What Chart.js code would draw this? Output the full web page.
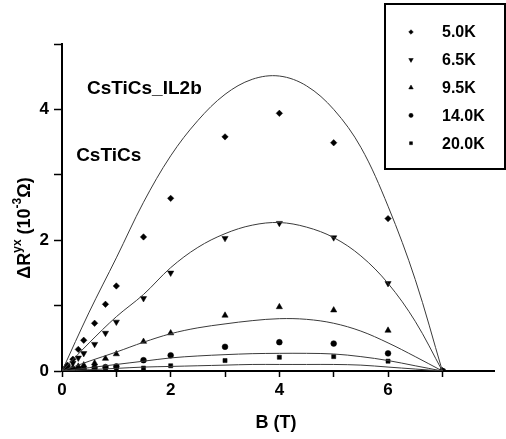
<!DOCTYPE html>
<html>
<head>
<meta charset="utf-8">
<script src="https://cdn.jsdelivr.net/npm/chart.js@4.4.0/dist/chart.umd.min.js"></script>
<style>
  html, body { margin: 0; padding: 0; background: #fff; }
  #hall { display: block; }
</style>
</head>
<body>
<canvas id="hall" width="506" height="439"></canvas>
<script>
// measured field points (T)
const fieldB = [0, 0.05, 0.1, 0.2, 0.3, 0.4, 0.6, 0.8, 1, 1.5, 2, 3, 4, 5, 6, 7];
// ΔR^yx in units of 10^-3 Ω
const hall5K  = [0, 0.04, 0.09, 0.18, 0.33, 0.47, 0.73, 1.02, 1.30, 2.05, 2.64, 3.58, 3.94, 3.49, 2.33, 0];
const hall6K  = [0, 0.02, 0.05, 0.12, 0.20, 0.27, 0.41, 0.58, 0.75, 1.11, 1.50, 2.03, 2.26, 2.04, 1.34, 0];
const hall9K  = [0, 0.01, 0.02, 0.05, 0.07, 0.09, 0.12, 0.19, 0.26, 0.45, 0.58, 0.85, 0.98, 0.93, 0.62, 0];
const hall14K = [0, 0.01, 0.01, 0.02, 0.03, 0.03, 0.05, 0.06, 0.07, 0.165, 0.24, 0.37, 0.44, 0.42, 0.27, 0];
const hall20K = [0, 0, 0, 0.01, 0.01, 0.01, 0.02, 0.02, 0.03, 0.045, 0.08, 0.16, 0.21, 0.22, 0.15, 0];

// fit curves, sampled every 0.5 T
const fitB   = [0, 0.5, 1, 1.5, 2, 2.5, 3, 3.5, 4, 4.5, 5, 5.5, 6, 6.5, 7];
const fit5K  = [0, 0.90, 1.73, 2.58, 3.29, 3.83, 4.23, 4.46, 4.51, 4.36, 4.00, 3.42, 2.52, 1.40, 0];
const fit6K  = [0, 0.43, 0.83, 1.17, 1.58, 1.89, 2.10, 2.23, 2.27, 2.20, 2.04, 1.76, 1.34, 0.76, 0];
const fit9K  = [0, 0.15, 0.29, 0.44, 0.57, 0.66, 0.72, 0.77, 0.80, 0.79, 0.73, 0.61, 0.43, 0.22, 0];
const fit14K = [0, 0.05, 0.10, 0.15, 0.20, 0.23, 0.25, 0.265, 0.27, 0.27, 0.26, 0.22, 0.16, 0.08, 0];
const fit20K = [0, 0.02, 0.04, 0.06, 0.07, 0.08, 0.09, 0.10, 0.10, 0.10, 0.10, 0.09, 0.06, 0.03, 0];

const tempLabels = ['5.0K', '6.5K', '9.5K', '14.0K', '20.0K'];
const xTicks = [0, 1, 2, 3, 4, 5, 6, 7];
const yTicks = [0, 1, 2, 3, 4, 5];

const FONT = "'Liberation Sans', Arial, sans-serif";

// marker per temperature
const MARKERS = [
  { pointStyle: 'rectRot',  rotation: 0,   radius: 3.2 },
  { pointStyle: 'triangle', rotation: 180, radius: 3.6 },
  { pointStyle: 'triangle', rotation: 0,   radius: 3.6 },
  { pointStyle: 'circle',   rotation: 0,   radius: 2.9 },
  { pointStyle: 'rect',     rotation: 0,   radius: 2.9 },
];

const measured = [hall5K, hall6K, hall9K, hall14K, hall20K];
const fitted   = [fit5K, fit6K, fit9K, fit14K, fit20K];

const toXY = (xs, ys) => xs.map((x, i) => ({ x, y: ys[i] }));

const datasets = [];
fitted.forEach((ys, i) => {
  datasets.push({
    label: tempLabels[i] + ' fit',
    data: toXY(fitB, ys),
    showLine: true,
    borderColor: '#3a3a3a',
    borderWidth: 1,
    pointRadius: 0,
    tension: 0.35,
  });
});
measured.forEach((ys, i) => {
  const m = MARKERS[i];
  datasets.push({
    label: tempLabels[i],
    data: toXY(fieldB, ys),
    showLine: false,
    pointStyle: m.pointStyle,
    rotation: m.rotation,
    pointRadius: m.radius,
    backgroundColor: '#000',
    borderColor: '#000',
    borderWidth: 0.5,
  });
});

// framed legend in the top-right corner
const boxLegend = {
  id: 'boxLegend',
  afterDraw(chart) {
    const ctx = chart.ctx;
    ctx.save();
    ctx.strokeStyle = '#000';
    ctx.lineWidth = 2;
    ctx.strokeRect(385, 4, 120, 165);
    ctx.font = 'bold 16px ' + FONT;
    ctx.textAlign = 'left';
    ctx.textBaseline = 'middle';
    tempLabels.forEach((lab, i) => {
      const y = 32 + i * 27.8;
      const m = MARKERS[i];
      ctx.fillStyle = '#000';
      ctx.strokeStyle = '#000';
      ctx.lineWidth = 0.5;
      Chart.helpers.drawPoint(ctx, {
        pointStyle: m.pointStyle, rotation: m.rotation,
        radius: m.radius * 0.72, borderWidth: 0.5,
      }, 411, y);
      ctx.fillText(lab, 442, y + 1);
    });
    ctx.restore();
  }
};

// sample names and axis titles
const captions = {
  id: 'captions',
  afterDraw(chart) {
    const ctx = chart.ctx;
    const xs = chart.scales.x, ys = chart.scales.y;
    ctx.save();
    ctx.fillStyle = '#000';
    ctx.textBaseline = 'middle';
    ctx.textAlign = 'left';
    ctx.font = 'bold 19px ' + FONT;
    ctx.fillText('CsTiCs_IL2b', xs.getPixelForValue(0.46), ys.getPixelForValue(4.32));
    ctx.fillText('CsTiCs', xs.getPixelForValue(0.26), ys.getPixelForValue(3.29));

    // x title
    ctx.textAlign = 'center';
    ctx.font = 'bold 18px ' + FONT;
    ctx.fillText('B (T)', (chart.chartArea.left + chart.chartArea.right) / 2 - 2, 423);

    // y title with superscripts, rotated
    const parts = [
      { t: 'ΔR', f: 'bold 18px ', dy: 0 },
      { t: 'yx', f: 'bold 12px ', dy: -7 },
      { t: ' (10', f: 'bold 18px ', dy: 0 },
      { t: '-3', f: 'bold 12px ', dy: -7 },
      { t: 'Ω)', f: 'bold 18px ', dy: 0 },
    ];
    let total = 0;
    parts.forEach(p => { ctx.font = p.f + FONT; p.w = ctx.measureText(p.t).width; total += p.w; });
    ctx.translate(25, 228);
    ctx.rotate(-Math.PI / 2);
    ctx.textAlign = 'left';
    let cx = -total / 2;
    parts.forEach(p => {
      ctx.font = p.f + FONT;
      ctx.fillText(p.t, cx, p.dy);
      cx += p.w;
    });
    ctx.restore();
  }
};

new Chart(document.getElementById('hall'), {
  type: 'scatter',
  data: { datasets },
  options: {
    responsive: false,
    animation: false,
    devicePixelRatio: 1,
    layout: { padding: { left: 0, right: 12, top: 44, bottom: 0 } },
    plugins: { legend: { display: false }, tooltip: { enabled: false } },
    scales: {
      x: {
        type: 'linear',
        min: 0,
        max: 7.95,
        afterBuildTicks: s => { s.ticks = xTicks.map(v => ({ value: v })); },
        afterFit: s => { s.height = 68; },
        border: { color: '#000', width: 2 },
        grid: { drawOnChartArea: false, color: '#000', tickLength: 6, tickWidth: 1.5 },
        ticks: {
          color: '#000',
          padding: 3,
          font: { family: FONT, size: 17, weight: 'bold' },
          callback: v => (v % 2 === 0 ? String(v) : ''),
        },
      },
      y: {
        type: 'linear',
        min: 0,
        max: 5,
        afterBuildTicks: s => { s.ticks = yTicks.map(v => ({ value: v })); },
        afterFit: s => { s.width = 62; },
        border: { color: '#000', width: 2 },
        grid: { drawOnChartArea: false, color: '#000', tickLength: 8, tickWidth: 1.5 },
        ticks: {
          color: '#000',
          padding: 5,
          font: { family: FONT, size: 17, weight: 'bold' },
          callback: v => (v % 2 === 0 ? String(v) : ''),
        },
      },
    },
  },
  plugins: [boxLegend, captions],
});
</script>
</body>
</html>
